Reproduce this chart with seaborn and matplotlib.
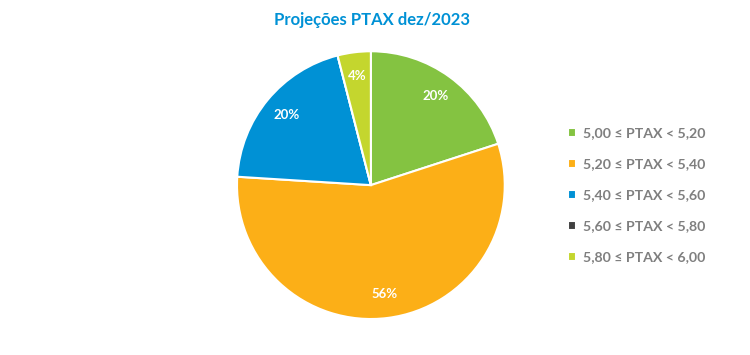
import matplotlib
matplotlib.use('Agg')
import matplotlib.pyplot as plt
import seaborn as sns

faixas = ['5,00 ≤ PTAX < 5,20', '5,20 ≤ PTAX < 5,40', '5,40 ≤ PTAX < 5,60',
          '5,60 ≤ PTAX < 5,80', '5,80 ≤ PTAX < 6,00']
percentuais = [20, 56, 20, 0, 4]
cores = ['#84C341', '#FCAF17', '#0091D5', '#404040', '#C4D62E']

sns.set_theme(style='white')
plt.rcParams['font.family'] = ['Lato', 'DejaVu Sans']

fig = plt.figure(figsize=(7.5, 3.55), dpi=100)
ax = fig.add_axes([0.316, 0.101, 0.357, 0.755])

wedges, texts, autotexts = ax.pie(
    percentuais, colors=cores, startangle=90, counterclock=False,
    autopct=lambda p: f'{p:.0f}%' if p > 0.5 else '', pctdistance=0.82,
    wedgeprops=dict(edgecolor='white', linewidth=1.5),
    textprops=dict(color='white', fontsize=9.5, fontweight='bold'))
ax.set_aspect('equal')
ax.set_xlim(-1, 1)
ax.set_ylim(-1, 1)

fig.suptitle('Projeções PTAX dez/2023', x=0.496, y=0.965, fontsize=12,
             fontweight='bold', color='#0091D5')

fig.legend(wedges, faixas, loc='center left', bbox_to_anchor=(0.74, 0.45),
           frameon=False, handlelength=0.6, handleheight=0.6, handletextpad=0.5,
           labelspacing=1.35, prop=dict(size=10.2, weight='bold'), labelcolor='#7F7F7F')

fig.savefig('out.png', dpi=100)
